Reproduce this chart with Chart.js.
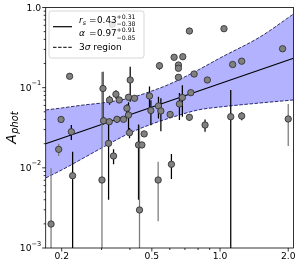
<!DOCTYPE html>
<html><head><meta charset="utf-8">
<script src="https://cdn.jsdelivr.net/npm/chart.js@4.4.1/dist/chart.umd.min.js"></script>
<style>html,body{margin:0;padding:0;background:#fff;}#wrap{width:300px;height:265px;}</style>
</head><body><div id="wrap"><canvas id="c" width="300" height="265"></canvas></div>
<script>
// ---- axis ticks ----
const xTickMajor = [0.2, 0.5, 1.0, 2.0];
const xTickLabels = ['0.2', '0.5', '1.0', '2.0'];
const xTickMinor = [0.3, 0.4, 0.6, 0.7, 0.8, 0.9];
const yTickMajor = [0.001, 0.01, 0.1, 1.0];
const yTickBase = ['10', '10', '10', '1.0'];
const yTickExp = ['\u22123', '\u22122', '\u22121', ''];
const yTickMinor = [0.002,0.003,0.004,0.005,0.006,0.007,0.008,0.009,
                    0.02,0.03,0.04,0.05,0.06,0.07,0.08,0.09,
                    0.2,0.3,0.4,0.5,0.6,0.7,0.8,0.9];
const xRange = [0.17, 2.11];
const yRange = [0.001, 1.0];

// ---- data points (x, A_phot, symmetric error, error colour) ----
const ptX = [0.2168,0.3344,0.3043,0.3253,0.3471,0.3590,0.4013,0.3945,0.4194,0.3882,
             0.1987,0.2206,0.1940,0.3061,0.3243,0.3507,0.3750,0.3945,0.3985,0.4625,
             0.4367,0.4519,0.4411,0.3221,0.3388,0.3012,0.2235,0.1795,0.5332,0.6101,
             0.4882,0.5348,0.5481,0.4952,0.6021,0.6618,0.6819,0.7430,0.7325,0.8587,
             1.115,1.246,2.000,0.5403,0.6551,0.6551,0.6551,0.7682,0.8790,0.6271,
             0.6848,0.7325,1.041,1.889,1.137,1.246];
const ptY = [0.1386,0.617,0.0976,0.0702,0.0827,0.0702,0.1247,0.0759,0.0737,0.0553,
             0.0401,0.0282,0.0170,0.0387,0.0376,0.0403,0.0403,0.0456,0.0274,0.0265,
             0.0193,0.0193,0.00298,0.0202,0.01405,0.00705,0.00798,0.00199,0.00705,0.01107,
             0.0787,0.0591,0.0512,0.0519,0.0463,0.0626,0.0754,0.0866,0.0427,0.0342,
             0.0434,0.0443,0.0407,0.1879,0.1917,0.1744,0.1347,0.1481,0.1247,0.2391,
             0.2433,0.509,0.544,0.306,0.1945,0.2139];
const ptErr = [0,0,0.060,0.009,0.010,0.004,0.058,0,0,0.007,
               0,0.006,0.003,0.004,0,0.004,0,0.020,0.004,0,
               0.0153,0,0.031,0.0162,0.003,0.15,0.0079,0.0079,0.0049,0.0038,
               0.025,0.018,0.0225,0.018,0.004,0.023,0.032,0,0.004,0.006,
               0.050,0.005,0.022,0.020,0,0,0,0,0,0,
               0,0,0,0,0,0];
const ptErrColor = ['','','k','k','k','k','k','','','k',
                    '','k','g','k','','k','','k','k','',
                    'k','','g','k','k','g','k','g','g','k',
                    'k','k','k','k','k','k','k','','k','k',
                    'k','k','g','k','','','','','','',
                    '','','','','',''];

// ---- fit line and 3 sigma band ----
const fitX = [0.17, 2.11];
const fitY = [0.0200, 0.233];
const bandX = [0.17, 0.2, 0.25, 0.3, 0.4, 0.5, 0.6, 0.8, 1.0, 1.5, 2.11];
const bandUpper = [0.0527,0.0558,0.0608,0.0644,0.0743,0.0909,0.111,0.166,0.2345,0.4285,0.830];
const bandLower = [0.00747,0.0094,0.01327,0.01768,0.0272,0.0352,0.0418,0.0527,0.0574,0.0644,0.0702];

// ---- legend text ----
const rsValue = '0.43', rsPlus = '+0.31', rsMinus = '\u22120.38';
const alphaValue = '0.97', alphaPlus = '+0.91', alphaMinus = '\u22120.85';
const bandLabel = ['3', '\u03c3', ' region'];
const yTitle = ['A', 'phot'];

const F = '"DejaVu Sans"';
const pts = ptX.map((x, i) => ({x, y: ptY[i]}));
const fitPts = fitX.map((x, i) => ({x, y: fitY[i]}));
const upPts = bandX.map((x, i) => ({x, y: bandUpper[i]}));
const loPts = bandX.map((x, i) => ({x, y: bandLower[i]}));

function segs(ctx, x, y, list) {
  for (const s of list) {
    ctx.font = (s.it ? 'italic ' : '') + s.sz + 'px ' + F;
    ctx.fillText(s.t, x, y + (s.dy || 0));
    x += ctx.measureText(s.t).width + (s.gap || 0);
  }
  return x;
}

const errPlugin = {
  id: 'errbars',
  beforeDatasetDraw(chart, args) {
    if (args.index !== 0) return;
    const {ctx, chartArea: a, scales: {x, y}} = chart;
    ctx.save();
    ctx.beginPath(); ctx.rect(a.left, a.top, a.right - a.left, a.bottom - a.top); ctx.clip();
    ctx.lineWidth = 1.25;
    for (let i = 0; i < ptX.length; i++) {
      if (!ptErr[i]) continue;
      const px = x.getPixelForValue(ptX[i]);
      const hi = ptY[i] + ptErr[i], lo = ptY[i] - ptErr[i];
      const yT = y.getPixelForValue(hi);
      const yB = lo > 0 ? y.getPixelForValue(lo) : a.bottom + 5;
      ctx.strokeStyle = ptErrColor[i] === 'g' ? '#7a7a7a' : '#000';
      ctx.beginPath(); ctx.moveTo(px, yT); ctx.lineTo(px, yB); ctx.stroke();
    }
    ctx.restore();
  }
};

const decor = {
  id: 'decor',
  afterDraw(chart) {
    const {ctx, chartArea: a, scales: {x, y}} = chart;
    ctx.save();
    // frame
    ctx.strokeStyle = '#000'; ctx.lineWidth = 0.8;
    ctx.strokeRect(a.left, a.top, a.right - a.left, a.bottom - a.top);
    // ticks
    ctx.beginPath();
    yTickMajor.forEach(v => { const p = y.getPixelForValue(v); ctx.moveTo(a.left, p); ctx.lineTo(a.left - 3.5, p); });
    yTickMinor.forEach(v => { const p = y.getPixelForValue(v); ctx.moveTo(a.left, p); ctx.lineTo(a.left - 2, p); });
    xTickMajor.forEach(v => { const p = x.getPixelForValue(v); ctx.moveTo(p, a.bottom); ctx.lineTo(p, a.bottom + 3.5); });
    xTickMinor.forEach(v => { const p = x.getPixelForValue(v); ctx.moveTo(p, a.bottom); ctx.lineTo(p, a.bottom + 2); });
    ctx.stroke();
    ctx.fillStyle = '#000';
    // x tick labels
    ctx.font = '9.2px ' + F; ctx.textAlign = 'center'; ctx.textBaseline = 'alphabetic';
    xTickMajor.forEach((v, i) => ctx.fillText(xTickLabels[i], x.getPixelForValue(v), a.bottom + 10.5));
    // y tick labels
    ctx.textAlign = 'left';
    yTickMajor.forEach((v, i) => {
      const p = y.getPixelForValue(v);
      ctx.font = '6.6px ' + F; const we = yTickExp[i] ? ctx.measureText(yTickExp[i]).width : 0;
      ctx.font = '9.2px ' + F; const wb = ctx.measureText(yTickBase[i]).width;
      const x0 = a.left - 4.5 - we - wb;
      ctx.fillText(yTickBase[i], x0, p + 3.4);
      if (yTickExp[i]) { ctx.font = '6.6px ' + F; ctx.fillText(yTickExp[i], x0 + wb, p - 2.4); }
    });
    // y title
    ctx.save();
    const cy = (a.top + a.bottom) / 2;
    ctx.font = 'italic 14px ' + F; const wA = ctx.measureText(yTitle[0]).width;
    ctx.font = 'italic 9.8px ' + F; const wP = ctx.measureText(yTitle[1]).width;
    ctx.translate(15.5, cy + (wA + wP) / 2); ctx.rotate(-Math.PI / 2);
    ctx.font = 'italic 14px ' + F; ctx.fillText(yTitle[0], 0, 0);
    ctx.font = 'italic 9.8px ' + F; ctx.fillText(yTitle[1], wA + 0.3, 2);
    ctx.restore();
    // legend box
    const lx = 49, ly = 11, lw = 95, lh = 47;
    ctx.beginPath(); ctx.roundRect(lx, ly, lw, lh, 2.5);
    ctx.fillStyle = 'rgba(255,255,255,0.8)'; ctx.fill();
    ctx.strokeStyle = '#cccccc'; ctx.lineWidth = 0.8; ctx.stroke();
    // handles
    ctx.strokeStyle = '#000'; ctx.lineWidth = 1.2;
    ctx.beginPath(); ctx.moveTo(53, 26.7); ctx.lineTo(72, 26.7); ctx.stroke();
    ctx.lineWidth = 1; ctx.setLineDash([3.5, 1.6]);
    ctx.beginPath(); ctx.moveTo(53, 47.3); ctx.lineTo(72, 47.3); ctx.stroke();
    ctx.setLineDash([]);
    ctx.fillStyle = '#000'; ctx.textAlign = 'left';
    // row 1
    segs(ctx, 79, 23, [{t: 'r', sz: 9, it: 1}, {t: 's', sz: 6.3, it: 1, dy: 1.8}]);
    segs(ctx, 89, 23, [{t: '=', sz: 9}]);
    const e1 = segs(ctx, 97, 23, [{t: rsValue, sz: 8.8}]);
    segs(ctx, e1, 18.6, [{t: rsPlus, sz: 6.2}]);
    segs(ctx, e1, 26.2, [{t: rsMinus, sz: 6.2}]);
    // row 2
    segs(ctx, 79, 36.4, [{t: '\u03b1', sz: 9, it: 1}]);
    segs(ctx, 89, 36.4, [{t: '=', sz: 9}]);
    const e2 = segs(ctx, 97, 36.4, [{t: alphaValue, sz: 8.8}]);
    segs(ctx, e2, 32, [{t: alphaPlus, sz: 6.2}]);
    segs(ctx, e2, 39.6, [{t: alphaMinus, sz: 6.2}]);
    // row 3
    segs(ctx, 79, 50, [{t: bandLabel[0], sz: 9}, {t: bandLabel[1], sz: 9, it: 1}, {t: bandLabel[2], sz: 9}]);
    ctx.restore();
  }
};

new Chart(document.getElementById('c'), {
  type: 'scatter',
  data: {
    datasets: [
      {label: 'data', data: pts, pointRadius: 3.2, pointBackgroundColor: '#808080',
       pointBorderColor: '#2a2a2a', pointBorderWidth: 0.8, showLine: false, order: 0},
      {label: 'fit', data: fitPts, showLine: true, borderColor: '#000', borderWidth: 1.2,
       pointRadius: 0, order: 1},
      {label: '3 sigma upper', data: upPts, showLine: true, borderColor: '#1c1c48', borderWidth: 0.9,
       borderDash: [3.5, 1.6], pointRadius: 0, cubicInterpolationMode: 'monotone',
       fill: '+1', backgroundColor: 'rgba(0,0,255,0.3)', order: 2},
      {label: '3 sigma lower', data: loPts, showLine: true, borderColor: '#1c1c48', borderWidth: 0.9,
       borderDash: [3.5, 1.6], pointRadius: 0, cubicInterpolationMode: 'monotone', fill: false, order: 3}
    ]
  },
  options: {
    responsive: false, animation: false, events: [], devicePixelRatio: 1,
    layout: {padding: {left: 45.7, right: 6.5, top: 7.5, bottom: 17}},
    plugins: {legend: {display: false}, tooltip: {enabled: false}},
    scales: {
      x: {type: 'logarithmic', min: xRange[0], max: xRange[1], display: false},
      y: {type: 'logarithmic', min: yRange[0], max: yRange[1], display: false}
    }
  },
  plugins: [errPlugin, decor]
});
</script></body></html>
